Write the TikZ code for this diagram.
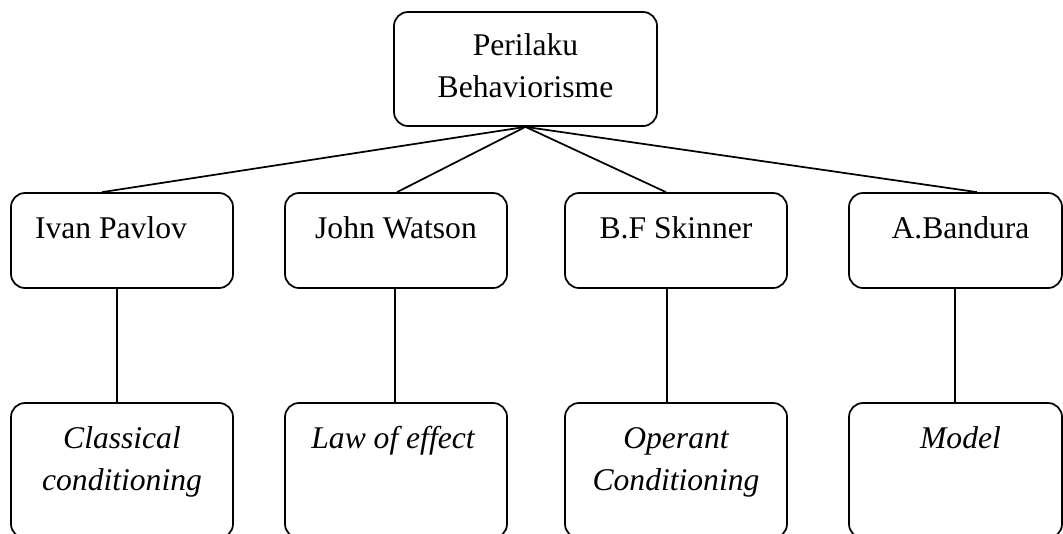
\documentclass[tikz,border=0pt]{standalone}
\usepackage{fontspec}
\setmainfont{Liberation Serif}
\newcommand{\twolines}[2]{\begin{tabular}[t]{@{}c@{}}#1\\#2\end{tabular}}

\begin{document}
\begin{tikzpicture}[x=0.75pt,y=-0.75pt,
    box/.style={draw, line width=1.3pt, rounded corners=10.5pt, inner sep=0pt,
      font=\fontsize{23.7pt}{31.5pt}\selectfont, minimum width=166.5pt},
    namebox/.style={box, text height=33.75pt, text depth=37.5pt},
    ideabox/.style={box, text height=33.75pt, text depth=67.5pt,
      font=\fontsize{23.7pt}{31.5pt}\selectfont\itshape},
    link/.style={line width=1.3pt}]
    \useasboundingbox (0,0) rectangle (1063,533);

    % Root
    \node[box, minimum width=197.25pt, text height=32.25pt, text depth=53.25pt]
      (root) at (525.5,69) {\twolines{Perilaku}{Behaviorisme}};

    % Tokoh
    \node[namebox] (pavlov) at (122,240.5) {Ivan Pavlov\kern16.5pt};
    \node[namebox] (watson) at (396,240.5) {John Watson};
    \node[namebox] (skinner) at (676,240.5) {B.F Skinner};
    \node[namebox, minimum width=159.75pt] (bandura) at (955.5,240.5) {\kern7.5pt A.Bandura};

    % Teori
    \node[ideabox] (classical) at (122,470.5) {\twolines{Classical}{conditioning}};
    \node[ideabox] (effect) at (396,470.5) {Law of effect\kern4.5pt};
    \node[ideabox] (operant) at (676,470.5) {\twolines{Operant}{Conditioning}};
    \node[ideabox, minimum width=159.75pt] (model) at (955.5,470.5) {\kern7.5pt Model};

    % Links from root
    \draw[link] (root.south) -- ([xshift=-15pt]pavlov.north);
    \draw[link] (root.south) -- ([xshift=0.75pt]watson.north);
    \draw[link] (root.south) -- ([xshift=-7.5pt]skinner.north);
    \draw[link] (root.south) -- ([xshift=16.1pt]bandura.north);

    % Links down
    \draw[link] ([xshift=-3.75pt]pavlov.south) -- ([xshift=-3.75pt]classical.north);
    \draw[link] ([xshift=-0.75pt]watson.south) -- ([xshift=-0.75pt]effect.north);
    \draw[link] ([xshift=-6.75pt]skinner.south) -- ([xshift=-6.75pt]operant.north);
    \draw[link] ([xshift=-0.4pt]bandura.south) -- ([xshift=-0.4pt]model.north);
\end{tikzpicture}
\end{document}
